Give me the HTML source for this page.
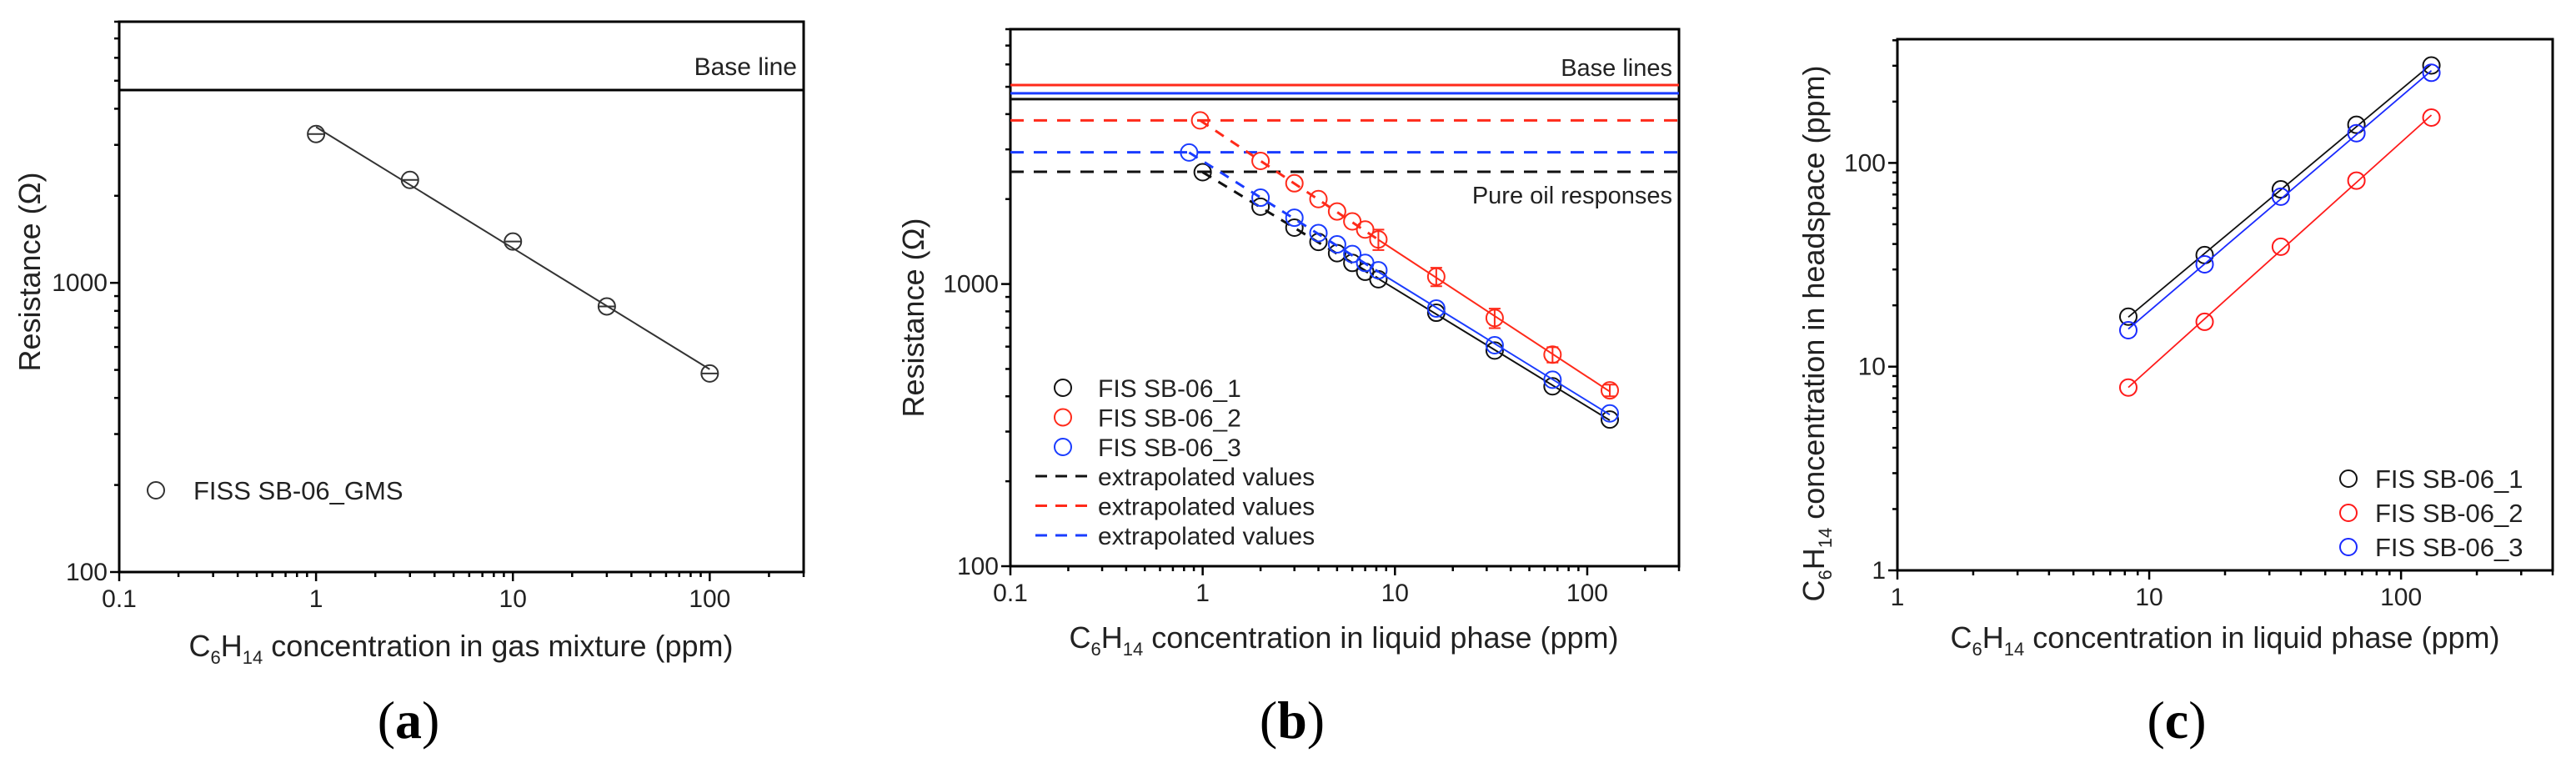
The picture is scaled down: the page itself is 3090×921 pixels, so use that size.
<!DOCTYPE html>
<html><head><meta charset="utf-8">
<style>
html,body{margin:0;padding:0;background:#fff;}
svg{display:block;font-family:"Liberation Sans",Arial,sans-serif;}
</style></head>
<body>
<svg id="fig" width="3090" height="921" viewBox="0 0 3090 921" xmlns="http://www.w3.org/2000/svg"></svg>
<script>
// ---------- Panel (a) data ----------
const aX = [1, 3, 10, 30, 100];
const aY = [3270, 2270, 1390, 829, 486];
const aBase = 4640;
// ---------- Panel (b) data ----------
const bX1 = [1, 2, 3, 4, 5, 6, 7, 8.2, 16.4, 33, 66, 131];
const bY1 = [2490, 1880, 1584, 1410, 1286, 1188, 1105, 1040, 791, 581, 434, 331];
const bX2 = [0.97, 2, 3, 4, 5, 6, 7, 8.2, 16.4, 33, 66, 131];
const bY2 = [3800, 2730, 2275, 2000, 1808, 1667, 1560, 1439, 1062, 758, 562, 420];
const bErr2 = [0, 0, 0, 0, 0, 0, 0, 120, 80, 60, 35, 20];
const bX3 = [0.85, 2, 3, 4, 5, 6, 7, 8.2, 16.4, 33, 66, 131];
const bY3 = [2925, 2023, 1718, 1516, 1382, 1277, 1188, 1119, 819, 607, 458, 348];
const bBase = [4520, 5070, 4740];
const bPure = [2500, 3800, 2930];
// ---------- Panel (c) data ----------
const cX = [8.26, 16.6, 33.3, 66.5, 132];
const cY1 = [17.6, 35.3, 74.2, 154, 301];
const cY2 = [7.9, 16.6, 38.8, 81.9, 167];
const cY3 = [15.1, 31.8, 68.3, 140, 277];

const NS = "http://www.w3.org/2000/svg";
const svg = document.getElementById('fig');
function mk(tag, attrs, parent, text){
  const e = document.createElementNS(NS, tag);
  for (const k in attrs) e.setAttribute(k, attrs[k]);
  if (text !== undefined) e.textContent = text;
  (parent || svg).appendChild(e);
  return e;
}
function logScale(d0, d1, p0, p1){
  const l0 = Math.log10(d0), l1 = Math.log10(d1);
  return v => p0 + (Math.log10(v) - l0) / (l1 - l0) * (p1 - p0);
}
function fit(xs, ys){
  const n = xs.length; let sx=0, sy=0, sxx=0, sxy=0;
  for (let i=0;i<n;i++){const a=Math.log10(xs[i]), b=Math.log10(ys[i]); sx+=a; sy+=b; sxx+=a*a; sxy+=a*b;}
  const m = (n*sxy - sx*sy)/(n*sxx - sx*sx); const c = (sy - m*sx)/n;
  return x => Math.pow(10, c + m*Math.log10(x));
}
function axes(g, L, R, T, B, xs, ys, xMin, xMax, yMin, yMax, xLabels, yLabels){
  const fr = mk('rect', {x:L, y:T, width:R-L, height:B-T, fill:'none', stroke:'#000', 'stroke-width':3}, g);
  
  
  const xt = mk('g', {}, g);
  
  
  for (let d = Math.floor(Math.log10(xMin)); d <= Math.ceil(Math.log10(xMax)); d++){
    for (let k=1;k<10;k++){
      const v = k*Math.pow(10,d); if (v < xMin*0.999 || v > xMax*1.001) continue;
      const x = xs(v); const len = k===1 ? 11 : 6;
      mk('line', {x1:x, x2:x, y1:B, y2:B+len, stroke:'#000', 'stroke-width':2.5}, xt);
    }
  }
  xLabels.forEach(v => {
    const t = mk('text', {x:xs(v), y:B+42, 'font-size':30, 'text-anchor':'middle', fill:'#222'}, xt, String(v));
    
    
  });
  const yt = mk('g', {}, g);
  
  
  for (let d = Math.floor(Math.log10(yMin)); d <= Math.ceil(Math.log10(yMax)); d++){
    for (let k=1;k<10;k++){
      const v = k*Math.pow(10,d); if (v < yMin*0.999 || v > yMax*1.001) continue;
      const y = ys(v); const len = k===1 ? 11 : 6;
      mk('line', {x1:L-len, x2:L, y1:y, y2:y, stroke:'#000', 'stroke-width':2.5}, yt);
    }
  }
  yLabels.forEach(v => {
    const t = mk('text', {x:L-14, y:ys(v)+10, 'font-size':30, 'text-anchor':'end', fill:'#222'}, yt, String(v));
    
    
  });
}
function circle(g, x, y, color){
  return mk('circle', {cx:x, cy:y, r:10, fill:'none', stroke:color, 'stroke-width':2}, g);
}
function xTitle(g, cx, cy, rest){
  const t = mk('text', {x:cx, y:cy, 'font-size':36, 'text-anchor':'middle', fill:'#222'}, g);
  
  
  mk('tspan', {}, t, 'C');
  mk('tspan', {'font-size':22, dy:9}, t, '6');
  mk('tspan', {dy:-9}, t, 'H');
  mk('tspan', {'font-size':22, dy:9}, t, '14');
  mk('tspan', {dy:-9}, t, rest);
}
function panelLabel(x, y, s){
  const t = mk('text', {x:x, y:y, 'font-size':64, 'text-anchor':'middle', 'font-family':'"Liberation Serif",serif', fill:'#000'}, svg);
  mk('tspan', {}, t, '(');
  mk('tspan', {'font-weight':'bold'}, t, s);
  mk('tspan', {}, t, ')');
  
  
}

// ================= Panel (a) =================
(function(){
  const L=143, R=964, T=26, B=686;
  const g = mk('g', {});
  
  
  const xs = logScale(0.1, 300, L, R), ys = logScale(100, 8000, B, T);
  axes(g, L, R, T, B, xs, ys, 0.1, 300, 100, 8000, [0.1, 1, 10, 100], [100, 1000]);
  const bl = mk('line', {x1:L, x2:R, y1:ys(aBase), y2:ys(aBase), stroke:'#000', 'stroke-width':3}, g);
  
  
  const blt = mk('text', {x:R-8, y:ys(aBase)-18, 'font-size':30, 'text-anchor':'end', fill:'#222'}, g, 'Base line');
  
  
  const f = fit(aX, aY);
  const ln = mk('line', {x1:xs(aX[0]), y1:ys(f(aX[0])), x2:xs(aX[aX.length-1]), y2:ys(f(aX[aX.length-1])), stroke:'#333', 'stroke-width':2}, g);
  
  
  aX.forEach((x,i) => {
    const c = circle(g, xs(x), ys(aY[i]), '#333');
    
    
    mk('line', {x1:xs(x)-10, x2:xs(x)+10, y1:ys(aY[i]), y2:ys(aY[i]), stroke:'#333', 'stroke-width':2}, g);
  });
  const lg = mk('g', {}, g);
  
  
  circle(lg, 187, 588, '#333');
  mk('text', {x:232, y:599, 'font-size':31, fill:'#222'}, lg, 'FISS SB-06_GMS');
  const yt = mk('text', {x:0, y:0, 'font-size':36, 'text-anchor':'middle', fill:'#222', transform:'translate(48,326) rotate(-90)'}, g, 'Resistance (Ω)');
  
  
  xTitle(g, 553, 787, ' concentration in gas mixture (ppm)');
})();
panelLabel(490, 885, 'a');

// ================= Panel (b) =================
(function(){
  const L=1212, R=2014, T=35, B=679;
  const g = mk('g', {});
  
  
  const xs = logScale(0.1, 300, L, R), ys = logScale(100, 8000, B, T);
  axes(g, L, R, T, B, xs, ys, 0.1, 300, 100, 8000, [0.1, 1, 10, 100], [100, 1000]);
  const colors = ['#111', '#ff2a1a', '#1a3cff'];
  bBase.forEach((v,i) => {
    const l = mk('line', {x1:L, x2:R, y1:ys(v), y2:ys(v), stroke:colors[i], 'stroke-width':3}, g);
    
    
  });
  bPure.forEach((v,i) => {
    const l = mk('line', {x1:L, x2:R, y1:ys(v), y2:ys(v), stroke:colors[i], 'stroke-width':3, 'stroke-dasharray':'16 12'}, g);
    
    
  });
  const t1 = mk('text', {x:R-8, y:91, 'font-size':29, 'text-anchor':'end', fill:'#222'}, g, 'Base lines');
  
  
  const t2 = mk('text', {x:R-8, y:244, 'font-size':29, 'text-anchor':'end', fill:'#222'}, g, 'Pure oil responses');
  
  
  const series = [[bX1,bY1,null],[bX2,bY2,bErr2],[bX3,bY3,null]];
  series.forEach((s,si) => {
    const [X, Y, E] = s; const col = colors[si];
    const f = fit(X.slice(7), Y.slice(7));
    const sl = mk('line', {x1:xs(X[7]), y1:ys(f(X[7])), x2:xs(X[X.length-1]), y2:ys(f(X[X.length-1])), stroke:col, 'stroke-width':2}, g);
    
    
    const dl = mk('line', {x1:xs(X[0]), y1:ys(Y[0]), x2:xs(X[7]), y2:ys(f(X[7])), stroke:col, 'stroke-width':3, 'stroke-dasharray':'12 10'}, g);
    
    
    X.forEach((x,i) => {
      const cx = xs(x), cy = ys(Y[i]);
      const c = circle(g, cx, cy, col);
      
      
      if (E && E[i] > 0){
        const y1 = ys(Y[i]+E[i]), y2 = ys(Y[i]-E[i]);
        mk('path', {d:`M${cx},${y1}V${y2}M${cx-7},${y1}H${cx+7}M${cx-7},${y2}H${cx+7}`, stroke:col, 'stroke-width':2, fill:'none'}, g);
      }
    });
  });
  const lg = mk('g', {}, g);
  
  
  const names = ['FIS SB-06_1','FIS SB-06_2','FIS SB-06_3'];
  names.forEach((n,i) => {
    const y = 465 + i*35.5;
    circle(lg, 1275, y, colors[i]);
    mk('text', {x:1317, y:y+11, 'font-size':30, fill:'#222'}, lg, n);
  });
  colors.forEach((c,i) => {
    const y = 571 + i*35.5;
    mk('line', {x1:1242, x2:1310, y1:y, y2:y, stroke:c, 'stroke-width':3, 'stroke-dasharray':'14 10'}, lg);
    mk('text', {x:1317, y:y+11, 'font-size':30, fill:'#222'}, lg, 'extrapolated values');
  });
  const yt = mk('text', {x:0, y:0, 'font-size':36, 'text-anchor':'middle', fill:'#222', transform:'translate(1108,381) rotate(-90)'}, g, 'Resistance (Ω)');
  
  
  xTitle(g, 1612, 777, ' concentration in liquid phase (ppm)');
})();
panelLabel(1550, 885, 'b');

// ================= Panel (c) =================
(function(){
  const L=2276, R=3062, T=47, B=684;
  const g = mk('g', {});
  
  
  const xs = logScale(1, 400, L, R), ys = logScale(1, 405, B, T);
  axes(g, L, R, T, B, xs, ys, 1, 400, 1, 405, [1, 10, 100], [1, 10, 100]);
  const colors = ['#111', '#ff1a1a', '#1a2aff'];
  [cY1, cY2, cY3].forEach((Y,si) => {
    const col = colors[si];
    const f = fit(cX, Y);
    const l = mk('line', {x1:xs(cX[0]), y1:ys(f(cX[0])), x2:xs(cX[cX.length-1]), y2:ys(f(cX[cX.length-1])), stroke:col, 'stroke-width':1.8}, g);
    
    
    cX.forEach((x,i) => {
      const c = circle(g, xs(x), ys(Y[i]), col);
      
      
    });
  });
  const lg = mk('g', {}, g);
  
  
  ['FIS SB-06_1','FIS SB-06_2','FIS SB-06_3'].forEach((n,i) => {
    const y = 574 + i*41;
    circle(lg, 2817, y, colors[i]);
    mk('text', {x:2849, y:y+11, 'font-size':31, fill:'#222'}, lg, n);
  });
  const yt = mk('text', {x:0, y:0, 'font-size':36, 'text-anchor':'middle', fill:'#222', transform:'translate(2188,400) rotate(-90)'}, g);
  
  
  mk('tspan', {}, yt, 'C');
  mk('tspan', {'font-size':22, dy:9}, yt, '6');
  mk('tspan', {dy:-9}, yt, 'H');
  mk('tspan', {'font-size':22, dy:9}, yt, '14');
  mk('tspan', {dy:-9}, yt, ' concentration in headspace (ppm)');
  xTitle(g, 2669, 777, ' concentration in liquid phase (ppm)');
})();
panelLabel(2611, 885, 'c');
</script>
</body></html>
